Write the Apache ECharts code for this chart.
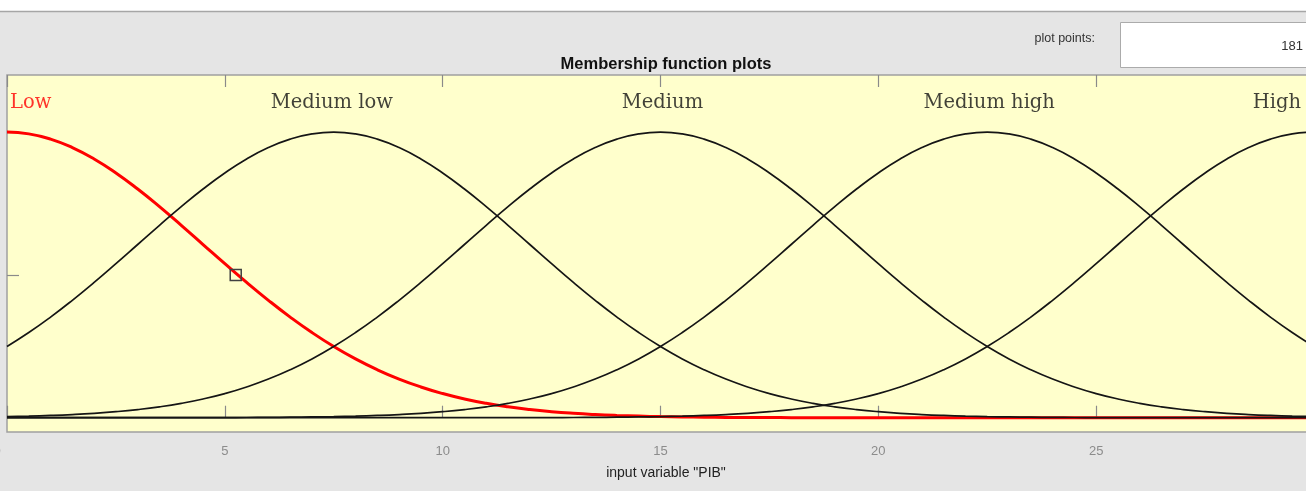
<!DOCTYPE html>
<html><head><meta charset="utf-8">
<script src="https://cdn.jsdelivr.net/npm/echarts@6/dist/echarts.min.js"></script>
<style>html,body{margin:0;padding:0;background:#fff;overflow:hidden;}#c{width:1306px;height:491px;}</style>
</head><body><div id="c"></div><script>
// ---- data ----
const xs = [0,0.5,1,1.5,2,2.5,3,3.5,4,4.5,5,5.5,6,6.5,7,7.5,8,8.5,9,9.5,10,10.5,11,11.5,12,12.5,13,13.5,14,14.5,15,15.5,16,16.5,17,17.5,18,18.5,19,19.5,20,20.5,21,21.5,22,22.5,23,23.5,24,24.5,25,25.5,26,26.5,27,27.5,28,28.5,29,29.5,30];
const mfNames = ['Low','Medium low','Medium','Medium high','High'];
const low = [1.0000,0.9938,0.9756,0.9460,0.9060,0.8570,0.8007,0.7390,0.6736,0.6065,0.5394,0.4738,0.4111,0.3523,0.2982,0.2494,0.2059,0.1680,0.1353,0.1077,0.0846,0.0657,0.0504,0.0382,0.0286,0.0211,0.0154,0.0111,0.0079,0.0056,0.0039,0.0027,0.0018,0.0012,0.0008,0.0005,0.0003,0.0002,0.0001,0,0,0,0,0,0,0,0,0,0,0,0,0,0,0,0,0,0,0,0,0,0];
const mediumLow = [0.2494,0.2982,0.3523,0.4111,0.4738,0.5394,0.6065,0.6736,0.7390,0.8007,0.8570,0.9060,0.9460,0.9756,0.9938,1.0000,0.9938,0.9756,0.9460,0.9060,0.8570,0.8007,0.7390,0.6736,0.6065,0.5394,0.4738,0.4111,0.3523,0.2982,0.2494,0.2059,0.1680,0.1353,0.1077,0.0846,0.0657,0.0504,0.0382,0.0286,0.0211,0.0154,0.0111,0.0079,0.0056,0.0039,0.0027,0.0018,0.0012,0.0008,0.0005,0.0003,0.0002,0.0001,0,0,0,0,0,0,0];
const medium = [0.0039,0.0056,0.0079,0.0111,0.0154,0.0211,0.0286,0.0382,0.0504,0.0657,0.0846,0.1077,0.1353,0.1680,0.2059,0.2494,0.2982,0.3523,0.4111,0.4738,0.5394,0.6065,0.6736,0.7390,0.8007,0.8570,0.9060,0.9460,0.9756,0.9938,1.0000,0.9938,0.9756,0.9460,0.9060,0.8570,0.8007,0.7390,0.6736,0.6065,0.5394,0.4738,0.4111,0.3523,0.2982,0.2494,0.2059,0.1680,0.1353,0.1077,0.0846,0.0657,0.0504,0.0382,0.0286,0.0211,0.0154,0.0111,0.0079,0.0056,0.0039];
const mediumHigh = [0,0,0,0,0,0,0,0.0001,0.0002,0.0003,0.0005,0.0008,0.0012,0.0018,0.0027,0.0039,0.0056,0.0079,0.0111,0.0154,0.0211,0.0286,0.0382,0.0504,0.0657,0.0846,0.1077,0.1353,0.1680,0.2059,0.2494,0.2982,0.3523,0.4111,0.4738,0.5394,0.6065,0.6736,0.7390,0.8007,0.8570,0.9060,0.9460,0.9756,0.9938,1.0000,0.9938,0.9756,0.9460,0.9060,0.8570,0.8007,0.7390,0.6736,0.6065,0.5394,0.4738,0.4111,0.3523,0.2982,0.2494];
const high = [0,0,0,0,0,0,0,0,0,0,0,0,0,0,0,0,0,0,0,0,0,0,0.0001,0.0002,0.0003,0.0005,0.0008,0.0012,0.0018,0.0027,0.0039,0.0056,0.0079,0.0111,0.0154,0.0211,0.0286,0.0382,0.0504,0.0657,0.0846,0.1077,0.1353,0.1680,0.2059,0.2494,0.2982,0.3523,0.4111,0.4738,0.5394,0.6065,0.6736,0.7390,0.8007,0.8570,0.9060,0.9460,0.9756,0.9938,1.0000];
const mfLabelX = [0, 7.5, 15, 22.5, 30];
const mfLabelY = 1.102;
const cursorPoint = [5.25, 0.5];
const xTicks = [0, 5, 10, 15, 20, 25, 30];
const yTicks = [0, 0.5, 1];
const plotPoints = '181';

// ---- chart ----
const chart = echarts.init(document.getElementById('c'), null, {renderer: 'canvas'});
const pair = ys => xs.map((x, i) => [x, ys[i]]);
const series = [];
const allYs = [low, mediumLow, medium, mediumHigh, high];
const labelOffsets = [[3, 0], [-2, 0], [2, 0], [2, 0], [-13, 0]];
allYs.forEach((ys, k) => {
  series.push({
    type: 'line', name: mfNames[k], data: pair(ys), smooth: true, showSymbol: false,
    xAxisIndex: 0, yAxisIndex: 0,
    lineStyle: { color: k === 0 ? '#ff0000' : '#151515', width: k === 0 ? 3 : 1.7 },
    z: k === 0 ? 2 : 3,
    markPoint: k === 0 ? {
      symbol: 'rect', symbolSize: 11, silent: true,
      itemStyle: { color: 'rgba(0,0,0,0)', borderColor: '#404040', borderWidth: 1.5 },
      label: { show: false },
      data: [{ coord: cursorPoint }]
    } : undefined
  });
});
series.push({
  type: 'scatter', symbolSize: 0, silent: true, z: 5,
  data: mfLabelX.map((x, i) => ({
    value: [x, mfLabelY],
    label: {
      show: true, position: 'inside', formatter: mfNames[i],
      fontFamily: 'DejaVu Serif', fontSize: 19.5,
      color: i === 0 ? '#ff0000' : '#111111',
      align: i === 0 ? 'left' : (i === 4 ? 'right' : 'center'),
      offset: labelOffsets[i]
    }
  }))
});

const option = {
  backgroundColor: '#ffffff',
  animation: false,
  title: [
    { text: 'Membership function plots', left: 661, textAlign: 'center', top: 51,
      textStyle: { fontFamily: 'Liberation Sans', fontSize: 16.5, fontWeight: 'bold', color: '#111' } },
    { text: 'input variable "PIB"', left: 661, textAlign: 'center', top: 461,
      textStyle: { fontFamily: 'Liberation Sans', fontSize: 14, fontWeight: 'normal', color: '#222' } }
  ],
  graphic: [
    { type: 'rect', z: -10, shape: { x: 0, y: 11, width: 1306, height: 480 }, style: { fill: '#e5e5e5' } },
    { type: 'line', z: -9, shape: { x1: 0, y1: 11.5, x2: 1306, y2: 11.5 }, style: { stroke: '#a6a6a6', lineWidth: 1.5 } },
    { type: 'rect', z: 10, shape: { x: 1120.5, y: 22.5, width: 200, height: 45 }, style: { fill: '#ffffff', stroke: '#ababab', lineWidth: 1 } },
    { type: 'text', z: 11, x: 1303, y: 46, style: { text: plotPoints, fill: '#333', font: '13px "Liberation Sans"', textAlign: 'right', textVerticalAlign: 'middle' } },
    { type: 'text', z: 11, x: 1095, y: 39, style: { text: 'plot points:', fill: '#333', font: '12.5px "Liberation Sans"', textAlign: 'right', textVerticalAlign: 'middle' } }
  ],
  grid: { left: 7, right: -8, top: 75, bottom: 59, show: true, containLabel: false, outerBoundsMode: 'none',
    backgroundColor: '#ffffcc', borderColor: '#a0a0a0', borderWidth: 1.5 },
  xAxis: [
    { type: 'value', min: 0, max: 30, interval: 5, position: 'bottom',
      axisLine: { show: false }, splitLine: { show: false },
      axisTick: { show: true, inside: true, length: 12, lineStyle: { color: '#8a8a8a', width: 1.2 } },
      axisLabel: { show: true, margin: 13, fontFamily: 'Liberation Sans', fontSize: 13, color: '#8c8c8c',
        showMinLabel: true, showMaxLabel: true, hideOverlap: false,
        formatter: v => v === 0 ? '{z|0}' : String(v),
        rich: { z: { fontFamily: 'Liberation Sans', fontSize: 13, color: '#8c8c8c', padding: [0, 20, 0, 0] } } } },
    { type: 'value', min: 0, max: 30, interval: 5, position: 'top',
      axisLine: { show: false }, splitLine: { show: false }, axisLabel: { show: false },
      axisTick: { show: true, inside: true, length: 12, lineStyle: { color: '#8a8a8a', width: 1.2 } } }
  ],
  yAxis: [
    { type: 'value', min: -0.05, max: 1.2, position: 'left',
      axisLine: { show: false }, splitLine: { show: false }, axisLabel: { show: false },
      axisTick: { show: true, inside: true, length: 12, customValues: yTicks, lineStyle: { color: '#8a8a8a', width: 1.2 } } }
  ],
  series: series
};
chart.setOption(option);
</script></body></html>
